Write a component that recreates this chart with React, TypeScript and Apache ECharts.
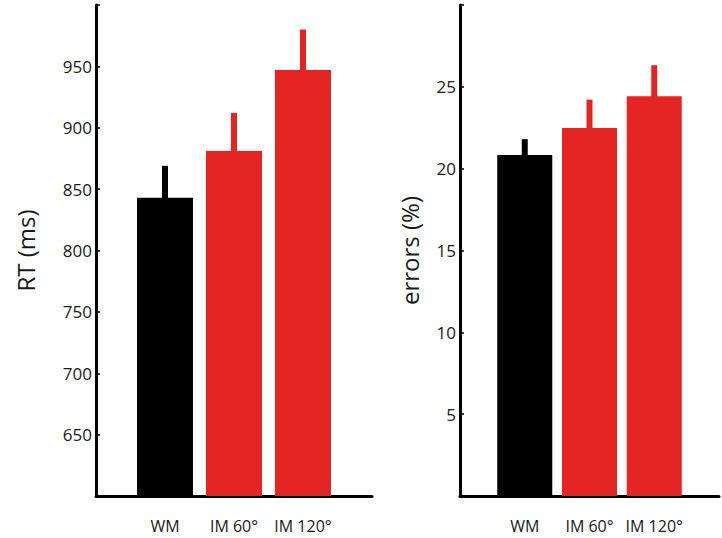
import React, { useEffect, useRef } from "react";
import * as echarts from "echarts";

const categories = ["WM", "IM 60°", "IM 120°"];
const rtMeans = [843, 881, 947];
const rtErrors = [26, 31, 33];
const errMeans = [20.84, 22.49, 24.42];
const errErrors = [0.96, 1.73, 1.9];
const barColors = ["#000000", "#e42523", "#e42523"];
const rtTicks = [650, 700, 750, 800, 850, 900, 950];
const errTicks = [5, 10, 15, 20, 25];

const FONT = "Open Sans";

export default function App() {
  const ref = useRef<HTMLDivElement>(null);
  useEffect(() => {
    if (!ref.current) return;
    const chart = echarts.init(ref.current, undefined, { renderer: "svg" });

    const xAxisBase = (gridIndex: number) => ({
      type: "value" as const,
      gridIndex,
      min: 0,
      max: 4,
      interval: 1,
      splitLine: { show: false },
      axisTick: { show: false },
      axisLine: { show: true, onZero: false, lineStyle: { color: "#000", width: 3 } },
      axisLabel: {
        margin: 22,
        fontFamily: FONT,
        fontSize: 16,
        color: "#1a1a1a",
        formatter: (v: number) => (v >= 1 && v <= categories.length ? categories[v - 1] : ""),
      },
    });

    const yAxisBase = (gridIndex: number, min: number, max: number, interval: number, ticks: number[], name: string, nameGap: number) => ({
      type: "value" as const,
      gridIndex,
      min,
      max,
      interval,
      name,
      nameLocation: "middle" as const,
      nameGap,
      nameTextStyle: { fontFamily: FONT, fontSize: 24, color: "#1a1a1a" },
      splitLine: { show: false },
      axisTick: { show: true, inside: true, length: 4, lineStyle: { color: "#000", width: 1.5 } },
      axisLine: { show: true, lineStyle: { color: "#000", width: 3 } },
      axisLabel: {
        margin: 4,
        fontFamily: FONT,
        fontSize: 17,
        color: "#1a1a1a",
        formatter: (v: number) => (ticks.indexOf(v) >= 0 ? String(v) : ""),
      },
    });

    const barData = (means: number[]) =>
      means.map((m, i) => ({ value: [i + 1, m], itemStyle: { color: barColors[i] } }));
    const errData = (means: number[], errs: number[]) =>
      means.map((m, i) => [i + 1, m, m + errs[i], i]);

    const renderErr = (params: any, api: any) => {
      const x = api.value(0);
      const lo = api.coord([x, api.value(1)]);
      const hi = api.coord([x, api.value(2)]);
      const w = 6;
      return {
        type: "rect",
        shape: { x: lo[0] - w / 2, y: hi[1], width: w, height: lo[1] - hi[1] + 1 },
        style: { fill: barColors[api.value(3)] },
      };
    };

    chart.setOption({
      animation: false,
      backgroundColor: "#ffffff",
      grid: [
        { left: 96, top: 5, width: 276, height: 491 },
        { left: 460, top: 5, width: 275, height: 491 },
      ],
      xAxis: [xAxisBase(0), xAxisBase(1)],
      yAxis: [
        yAxisBase(0, 600, 1000, 50, rtTicks, "RT (ms)", 59),
        yAxisBase(1, 0, 30, 5, errTicks, "errors (%)", 39),
      ],
      series: [
        { type: "bar", xAxisIndex: 0, yAxisIndex: 0, barWidth: 56, clip: true, data: barData(rtMeans) },
        { type: "bar", xAxisIndex: 1, yAxisIndex: 1, barWidth: 55, clip: true, data: barData(errMeans) },
        { type: "custom", xAxisIndex: 0, yAxisIndex: 0, renderItem: renderErr, data: errData(rtMeans, rtErrors) },
        { type: "custom", xAxisIndex: 1, yAxisIndex: 1, renderItem: renderErr, data: errData(errMeans, errErrors) },
      ],
    });
    return () => chart.dispose();
  }, []);
  return (
    <div
      ref={ref}
      style={{ position: "fixed", left: 0, top: 0, width: 722, height: 538, background: "#fff" }}
    />
  );
}
